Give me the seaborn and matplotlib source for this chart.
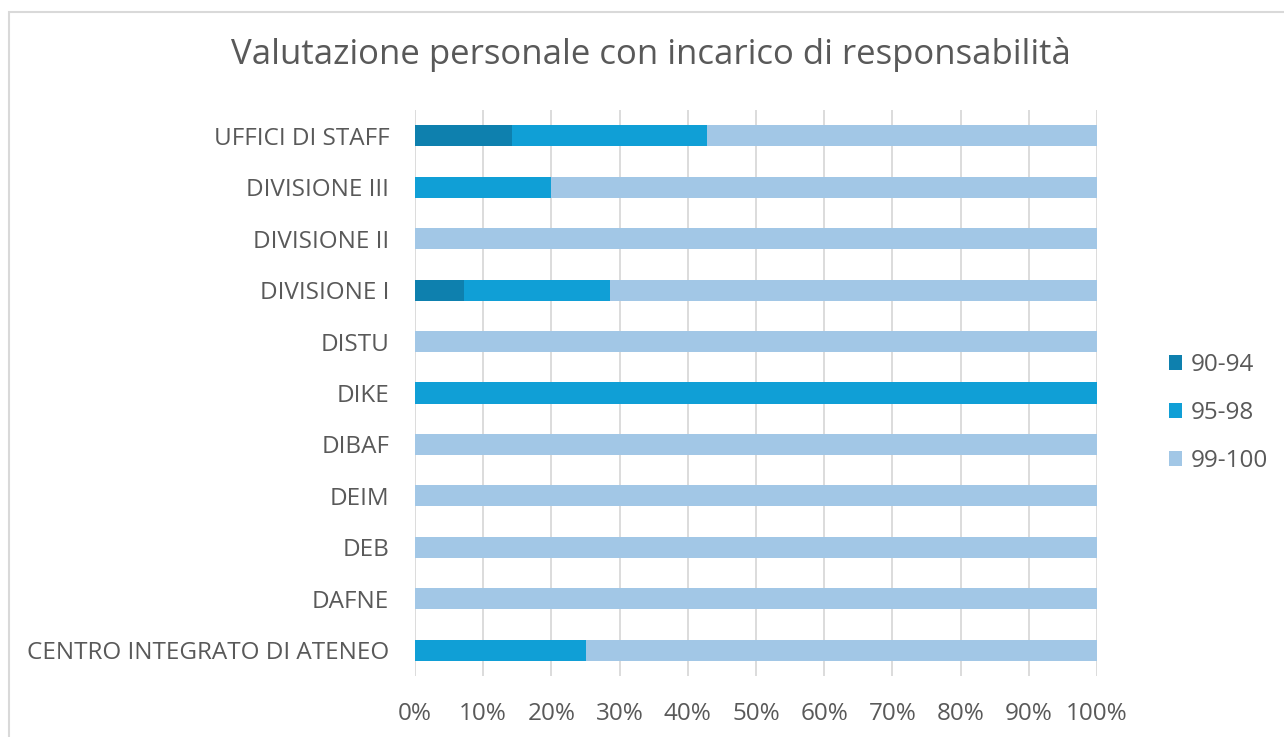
import matplotlib
matplotlib.use("Agg")
import matplotlib.pyplot as plt
import seaborn as sns
import pandas as pd
import numpy as np
from matplotlib.patches import Rectangle, Patch
from matplotlib.ticker import PercentFormatter, MultipleLocator

categories = ["UFFICI DI STAFF", "DIVISIONE III", "DIVISIONE II", "DIVISIONE I",
              "DISTU", "DIKE", "DIBAF", "DEIM", "DEB", "DAFNE",
              "CENTRO INTEGRATO DI ATENEO"]
s_90_94 = [14.29, 0, 0, 7.14, 0, 0, 0, 0, 0, 0, 0]
s_95_98 = [28.57, 20, 0, 21.43, 0, 100, 0, 0, 0, 0, 25]
s_99_100 = [57.14, 80, 100, 71.43, 100, 0, 100, 100, 100, 100, 75]
series_names = ["90-94", "95-98", "99-100"]
colors = ["#0E80AE", "#109FD6", "#A2C7E6"]

sns.set_theme(style="white")
plt.rcParams["font.family"] = ["Open Sans", "DejaVu Sans"]
text_color = "#595959"

df = pd.DataFrame({"cat": categories, "a": s_90_94, "b": s_95_98, "c": s_99_100})
df["cum_a"] = df["a"]
df["cum_b"] = df["a"] + df["b"]
df["cum_c"] = df["a"] + df["b"] + df["c"]

fig = plt.figure(figsize=(12.84, 7.37), dpi=100)
ax = fig.add_axes([415/1284, 1-676/737, (1097-415)/1284, (676-110)/737])

for col, color in zip(["cum_c", "cum_b", "cum_a"], colors[::-1]):
    sns.barplot(data=df, y="cat", x=col, color=color, orient="h", width=0.41,
                ax=ax, saturation=1, edgecolor="none", linewidth=0, zorder=3)

ax.set_xlim(0, 100)
ax.xaxis.set_major_locator(MultipleLocator(10))
ax.xaxis.set_major_formatter(PercentFormatter(decimals=0))
ax.grid(axis="x", color="#D9D9D9", linewidth=1.3, zorder=0)
ax.grid(axis="y", visible=False)
for s in ax.spines.values():
    s.set_visible(False)
ax.set_xlabel("")
ax.set_ylabel("")
ax.tick_params(axis="both", length=0, labelsize=17.5, colors=text_color)
ax.tick_params(axis="y", pad=18.5)
ax.tick_params(axis="x", pad=19)

fig.text(651/1284, 1-55/737, "Valutazione personale con incarico di responsabilità",
         ha="center", va="center", fontsize=25, color=text_color)

handles = [Patch(facecolor=c, edgecolor="none") for c in colors]
leg = fig.legend(handles, series_names, loc="center left",
                 bbox_to_anchor=(1169/1284, 1-413/737), frameon=False,
                 fontsize=17.5, labelcolor=text_color, handlelength=0.55,
                 handleheight=0.55, handletextpad=0.35, labelspacing=0.98,
                 borderpad=0, borderaxespad=0)

fig.patches.append(Rectangle((9/1284, -0.05), 1.2, 1-12/737+0.05,
                             transform=fig.transFigure, fill=False,
                             edgecolor="#D9D9D9", linewidth=1.5))

fig.savefig("out.png", dpi=100, facecolor="white")
